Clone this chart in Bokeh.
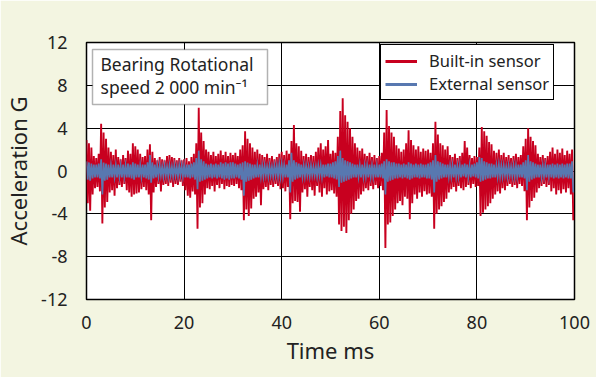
from bokeh.plotting import figure
from bokeh.models import (ColumnDataSource, Legend, LegendItem, Label, BoxAnnotation,
                          FixedTicker)
from bokeh.embed import file_html
from bokeh.resources import INLINE

# ---- data (envelope of each 0.5 ms slot, G) ----
bin_ms = 0.5
x_ticks = [0, 20, 40, 60, 80, 100]
y_ticks = [-12, -8, -4, 0, 4, 8, 12]
y_tick_labels = ["-12", "-8", "-4", "0", "4", "8", "12"]

builtin_hi = [
    2.9, 2.6, 2.2, 1.4, 1.2, 1.6, 4.4, 3.6, 3.0, 2.2, 1.8, 1.5, 2.0, 1.3, 1.1, 1.5, 1.2, 1.9, 1.6, 2.6,
    2.3, 2.0, 1.6, 1.3, 1.4, 2.0, 2.5, 1.8, 1.2, 1.0, 1.3, 1.1, 1.0, 1.4, 1.5, 1.3, 1.2, 1.0, 1.2, 1.0,
    1.1, 1.2, 0.9, 1.3, 1.6, 2.6, 5.9, 3.6, 2.8, 2.0, 1.8, 1.5, 1.8, 1.4, 1.6, 1.9, 1.5, 1.8, 1.4, 1.7,
    1.5, 1.7, 1.4, 2.0, 2.4, 3.7, 3.0, 2.6, 2.2, 1.8, 2.0, 1.6, 1.5, 1.3, 1.6, 1.2, 1.4, 1.1, 1.3, 1.6,
    1.8, 1.5, 1.9, 1.6, 2.8, 4.3, 2.6, 2.3, 1.9, 1.4, 1.6, 1.3, 1.5, 1.4, 1.8, 2.2, 2.6, 2.0, 2.3, 2.9,
    1.6, 1.9, 1.7, 3.2, 5.6, 6.8, 5.2, 4.6, 4.0, 3.2, 2.6, 2.2, 1.9, 2.1, 1.6, 1.4, 1.7, 1.3, 1.5, 1.2,
    1.4, 1.7, 3.6, 5.7, 4.2, 3.6, 3.2, 2.4, 2.1, 1.8, 2.0, 2.6, 3.8, 2.9, 2.4, 2.0, 2.3, 1.8, 2.1, 1.9,
    2.0, 1.7, 2.6, 4.6, 3.4, 2.6, 2.4, 2.0, 2.3, 1.5, 1.3, 1.6, 1.2, 1.4, 1.7, 2.8, 2.2, 1.5, 1.2, 1.4,
    1.3, 2.2, 4.1, 3.7, 3.3, 2.7, 2.5, 1.9, 1.7, 2.0, 1.5, 1.7, 1.3, 1.5, 1.2, 1.4, 1.6, 1.3, 1.5, 2.3,
    3.0, 4.0, 3.2, 2.8, 2.4, 1.6, 1.3, 1.5, 1.2, 1.4, 1.8, 2.2, 1.6, 2.0, 1.7, 2.1, 1.5, 1.9, 1.6, 2.0,
]
builtin_lo = [
    -3.0, -3.7, -2.2, -1.6, -1.5, -1.9, -4.9, -3.4, -2.9, -2.0, -1.8, -2.3, -1.6, -1.3, -1.5, -1.2, -1.8, -2.0, -2.4, -2.2,
    -2.1, -2.0, -1.7, -1.5, -1.8, -2.2, -4.6, -2.0, -1.5, -1.2, -1.9, -1.3, -1.2, -1.4, -1.1, -1.5, -1.2, -1.3, -1.0, -1.4,
    -1.8, -2.3, -2.5, -1.9, -2.2, -5.4, -3.4, -3.0, -2.2, -1.6, -1.7, -1.4, -1.9, -1.3, -1.6, -1.2, -1.7, -1.4, -1.5, -1.3,
    -1.4, -1.2, -1.6, -1.8, -4.6, -3.6, -4.2, -3.5, -2.6, -2.4, -2.0, -3.2, -1.7, -1.5, -1.8, -1.3, -1.5, -1.2, -1.4, -1.7,
    -1.6, -1.9, -1.5, -4.5, -3.0, -2.8, -2.9, -3.8, -2.0, -1.7, -2.4, -1.5, -1.8, -2.3, -1.4, -2.0, -2.4, -1.6, -2.2, -1.9,
    -1.8, -2.1, -2.4, -5.0, -5.6, -5.2, -5.8, -4.6, -4.0, -3.6, -2.8, -2.6, -2.2, -1.9, -1.6, -1.8, -1.4, -1.7, -1.3, -1.6,
    -1.4, -1.8, -7.2, -5.0, -4.8, -4.2, -3.6, -3.0, -2.8, -3.2, -2.4, -2.6, -4.5, -3.0, -2.2, -2.6, -2.0, -2.4, -1.9, -2.2,
    -2.1, -2.4, -5.4, -4.0, -3.6, -3.3, -2.9, -2.6, -2.0, -1.7, -1.5, -1.9, -1.4, -1.6, -1.8, -1.5, -1.3, -1.6, -1.2, -1.5,
    -1.4, -4.2, -3.9, -3.6, -3.3, -3.0, -2.6, -2.2, -1.9, -2.1, -1.6, -1.8, -1.4, -1.2, -1.5, -1.3, -1.6, -1.2, -1.4, -1.9,
    -4.6, -3.4, -2.8, -2.5, -2.0, -1.6, -1.4, -1.2, -1.5, -1.3, -1.9, -1.6, -2.2, -1.8, -2.1, -1.7, -2.0, -1.6, -2.2, -4.6,
]
external_hi = [
    0.9, 0.8, 0.7, 0.6, 0.6, 0.7, 1.1, 0.8, 0.7, 0.6, 0.5, 0.6, 0.5, 0.6, 0.5, 0.6, 0.5, 0.7, 0.6, 0.8,
    0.7, 0.6, 0.5, 0.6, 0.6, 0.8, 1.5, 0.8, 0.6, 0.5, 0.5, 0.4, 0.5, 0.4, 0.5, 0.4, 0.5, 0.4, 0.5, 0.5,
    0.5, 0.6, 0.6, 0.7, 0.8, 1.2, 1.9, 1.1, 0.9, 0.7, 0.6, 0.7, 0.6, 0.7, 0.6, 0.8, 0.7, 0.8, 0.7, 0.8,
    0.8, 0.7, 0.6, 0.7, 0.8, 0.9, 0.8, 0.7, 0.6, 0.6, 0.5, 0.6, 0.5, 0.5, 0.4, 0.5, 0.4, 0.5, 0.5, 0.6,
    0.6, 0.5, 0.6, 1.0, 1.7, 1.0, 0.8, 0.7, 0.6, 0.5, 0.5, 0.4, 0.5, 0.4, 0.4, 0.5, 0.5, 0.6, 0.6, 0.7,
    0.7, 0.8, 0.9, 1.4, 1.9, 1.2, 1.0, 0.9, 0.8, 0.7, 0.6, 0.6, 0.5, 0.6, 0.5, 0.5, 0.6, 0.5, 0.6, 0.5,
    0.6, 0.7, 0.9, 1.1, 0.9, 0.8, 0.8, 0.7, 0.7, 0.6, 0.7, 0.6, 0.8, 0.7, 0.6, 0.7, 0.6, 0.7, 0.6, 0.6,
    0.7, 0.8, 1.0, 1.5, 0.9, 0.8, 0.7, 0.6, 0.6, 0.5, 0.5, 0.6, 0.5, 0.5, 0.6, 0.7, 0.6, 0.5, 0.6, 0.7,
    0.8, 1.3, 1.2, 0.9, 0.8, 0.7, 0.7, 0.6, 0.5, 0.6, 0.5, 0.5, 0.4, 0.5, 0.4, 0.5, 0.5, 0.6, 0.6, 0.8,
    1.0, 1.5, 0.9, 0.8, 0.7, 0.6, 0.6, 0.5, 0.5, 0.6, 0.6, 0.7, 0.6, 0.7, 0.6, 0.7, 0.6, 0.7, 0.7, 0.9,
]
external_lo = [
    -0.8, -0.9, -0.7, -0.6, -0.6, -0.7, -2.2, -0.9, -0.8, -0.6, -0.6, -0.5, -0.6, -0.5, -0.6, -0.5, -0.6, -0.6, -0.7, -0.8,
    -0.6, -0.6, -0.5, -0.6, -0.7, -0.8, -1.1, -0.7, -0.6, -0.5, -0.4, -0.5, -0.4, -0.5, -0.4, -0.5, -0.4, -0.5, -0.4, -0.5,
    -0.6, -0.6, -0.7, -0.6, -0.8, -1.7, -1.0, -0.9, -0.8, -0.7, -0.6, -0.7, -0.6, -0.7, -0.6, -0.7, -0.8, -0.7, -0.8, -0.7,
    -0.7, -0.6, -0.7, -0.8, -2.3, -1.0, -0.9, -0.8, -0.7, -0.6, -0.6, -0.5, -0.5, -0.4, -0.5, -0.4, -0.5, -0.4, -0.5, -0.5,
    -0.5, -0.6, -0.6, -2.0, -1.0, -0.8, -0.7, -0.6, -0.5, -0.5, -0.4, -0.5, -0.4, -0.4, -0.5, -0.4, -0.5, -0.6, -0.5, -0.6,
    -0.6, -0.7, -0.8, -1.5, -1.1, -1.0, -0.9, -0.8, -0.7, -0.6, -0.6, -0.5, -0.6, -0.5, -0.5, -0.6, -0.5, -0.5, -0.6, -0.6,
    -0.6, -0.7, -2.2, -1.0, -0.9, -0.8, -0.7, -0.7, -0.6, -0.7, -0.6, -0.7, -0.8, -0.7, -0.6, -0.6, -0.7, -0.6, -0.6, -0.7,
    -0.7, -0.8, -2.0, -1.0, -0.8, -0.7, -0.6, -0.6, -0.5, -0.5, -0.6, -0.5, -0.5, -0.6, -0.5, -0.6, -0.5, -0.6, -0.5, -0.6,
    -0.7, -1.0, -0.9, -0.8, -0.7, -0.7, -0.6, -0.6, -0.5, -0.5, -0.5, -0.4, -0.5, -0.4, -0.5, -0.5, -0.5, -0.6, -0.6, -0.7,
    -1.8, -1.0, -0.8, -0.7, -0.6, -0.6, -0.5, -0.5, -0.6, -0.5, -0.6, -0.7, -0.6, -0.7, -0.6, -0.7, -0.6, -0.7, -0.7, -2.0,
]


def zigzag(hi, lo):
    xs, ys = [], []
    for i, (h, l) in enumerate(zip(hi, lo)):
        t = i * bin_ms
        xs += [t, t + bin_ms / 2]
        ys += [h, l]
    return xs, ys


RED = "#C8001F"
BLUE = "#5878B0"
CREAM = "#F3F5E1"
TXT = "#222222"
FONT = "Noto Sans"

p = figure(width=596, height=377, x_range=(0, 100), y_range=(-12, 12),
           output_backend="svg", toolbar_location=None,
           min_border_left=83, min_border_right=22, min_border_top=42, min_border_bottom=78,
           background_fill_color="white", border_fill_color=CREAM)
p.outline_line_color = "black"
p.outline_line_width = 1.5

p.xgrid.ticker = FixedTicker(ticks=x_ticks)
p.ygrid.ticker = FixedTicker(ticks=y_ticks)
p.grid.grid_line_color = "black"
p.grid.grid_line_width = 1
p.grid.grid_line_alpha = 1

rx, ry = zigzag(builtin_hi, builtin_lo)
bx, by = zigzag(external_hi, external_lo)
p.line(x="x", y="y", source=ColumnDataSource(dict(x=rx, y=ry)), line_color=RED,
       line_width=1.9, line_join="miter")
p.line(x="x", y="y", source=ColumnDataSource(dict(x=bx, y=by)), line_color=BLUE,
       line_width=1.7, line_join="miter")

# legend proxies (a single NaN point, thicker lines as in the reference legend)
nan = float("nan")
leg_red = p.line(x="x", y="y", source=ColumnDataSource(dict(x=[nan], y=[nan])), line_color=RED, line_width=3)
leg_blue = p.line(x="x", y="y", source=ColumnDataSource(dict(x=[nan], y=[nan])), line_color=BLUE, line_width=3)

# axes
p.xaxis.ticker = FixedTicker(ticks=x_ticks)
p.yaxis.ticker = FixedTicker(ticks=y_ticks)
p.yaxis.major_label_overrides = {v: s for v, s in zip(y_ticks, y_tick_labels)}
for ax in (p.xaxis[0], p.yaxis[0]):
    ax.axis_line_color = None
    ax.major_tick_line_color = None
    ax.minor_tick_line_color = None
    ax.major_label_text_font = FONT
    ax.major_label_text_font_size = "18px"
    ax.major_label_text_color = TXT
    ax.axis_label_text_font = FONT
    ax.axis_label_text_font_size = "22px"
    ax.axis_label_text_font_style = "normal"
    ax.axis_label_text_color = TXT
p.xaxis.axis_label = "Time ms"
p.yaxis.axis_label = "Acceleration G"
p.yaxis.major_label_standoff = 13
p.xaxis.major_label_standoff = 10
p.yaxis.axis_label_standoff = 5
p.xaxis.axis_label_standoff = 3

# legend
legend = Legend(items=[LegendItem(label="Built-in sensor", renderers=[leg_red]),
                       LegendItem(label="External sensor", renderers=[leg_blue])],
                location=(294, 199), orientation="vertical",
                label_text_font=FONT, label_text_font_size="16.5px", label_text_color=TXT,
                glyph_width=32, glyph_height=22, label_standoff=12, label_height=22,
                spacing=0, padding=4, margin=0,
                border_line_color="black", border_line_width=1.5, border_line_alpha=1,
                background_fill_color="white", background_fill_alpha=1)
p.add_layout(legend, "center")

# annotation box
box = BoxAnnotation(left=6, right=181, top=250, bottom=195,
                    left_units="screen", right_units="screen", top_units="screen", bottom_units="screen",
                    fill_color="white", fill_alpha=1, line_color="black", line_width=1.5)
p.add_layout(box)
for txt, yy in (("Bearing Rotational", 236), ("speed 2 000 min\u207b\u00b9", 213)):
    p.add_layout(Label(x=14, y=yy, x_units="screen", y_units="screen", text=txt,
                       text_font=FONT, text_font_size="17.5px", text_color=TXT,
                       text_baseline="middle", text_align="left"))

open("out.html", "w").write(file_html(p, INLINE))
